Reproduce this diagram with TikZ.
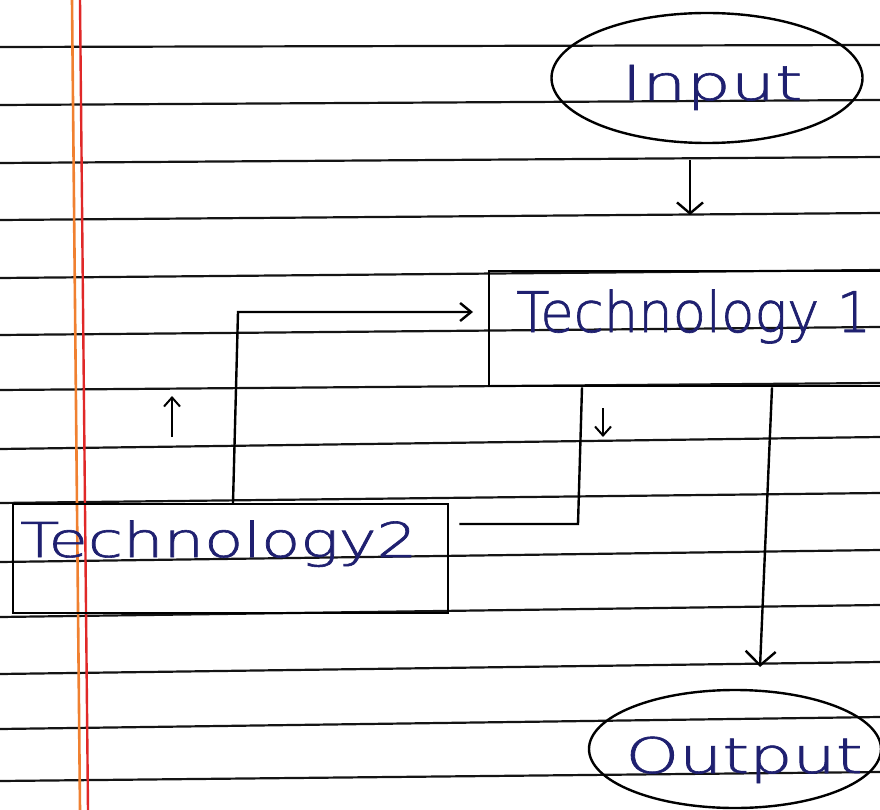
\documentclass[tikz,border=0pt]{standalone}
\usepackage{fontspec}
\usepackage{graphicx}
\usetikzlibrary{shapes.geometric,arrows.meta}
\IfFontExistsTF{DejaVu Sans ExtraLight}{\newfontfamily\handfont[FakeBold=1.2]{DejaVu Sans ExtraLight}}{\newfontfamily\handfont{DejaVu Sans}}
\definecolor{inkblue}{HTML}{1F2070}
\definecolor{marginA}{HTML}{F08030}
\definecolor{marginB}{HTML}{E02828}
\newcommand{\hw}[3]{\resizebox{#2}{\height}{\fontsize{#1}{#1}\handfont #3}}
\begin{document}
\begin{tikzpicture}[x=1pt,y=-1pt,
  rule/.style={line width=2.2pt, draw=black!92},
  ell/.style={ellipse, draw=black, line width=2.4pt, inner sep=0pt},
  boxn/.style={rectangle, draw=black, line width=2.4pt, inner sep=0pt},
  hwtxt/.style={text=inkblue, inner sep=0pt},
  conn/.style={draw=black, line width=2.4pt},
  arrbig/.style={conn, -{Straight Barb[length=11pt,width=26pt]}},
  arrout/.style={conn, -{Straight Barb[length=14pt,width=30pt]}},
  arrin/.style={conn, -{Straight Barb[length=11pt,width=18pt]}},
  arrsmall/.style={conn, line width=2pt, -{Straight Barb[length=9pt,width=16pt]}},
]
\useasboundingbox (0,0) rectangle (880,810);
\fill[white] (0,0) rectangle (880,810);
\clip (0,0) rectangle (880,810);
% ruled lines of the notebook page
\foreach \yl/\yr in {47/45,105/100,163/157,220/213,278/270,335/327,390/383,449/437,503/493,562/550,617/605,674/662,729/717,781/772}
  \draw[rule] (0,\yl) -- (880,\yr);
% margin lines
\draw[marginA, line width=2.6pt] (72,0) -- (80,810);
\draw[marginB, line width=2.4pt] (80,0) -- (88,810);

% nodes
\node[ell, minimum width=311pt, minimum height=130pt] (inp) at (707,78) {};
\node[hwtxt, anchor=base] (inptxt) at (712,100) {\hw{48}{181pt}{Input}};

\node[boxn, minimum width=430pt, minimum height=115pt, anchor=north west] (t1) at (488,270) {};
\node[hwtxt, anchor=base west] (t1txt) at (516,332) {\hw{56}{355pt}{Technology 1}};

\node[boxn, minimum width=435pt, minimum height=109pt, anchor=north west] (t2) at (12,503) {};
\node[hwtxt, anchor=base west] (t2txt) at (20,557) {\hw{48}{397pt}{Technology2}};

\node[ell, minimum width=292pt, minimum height=118pt] (out) at (735,749) {};
\node[hwtxt, anchor=base] (outtxt) at (744,773) {\hw{49}{237pt}{Output}};

% helper coordinates
\coordinate (ia) at (690,0);
\coordinate (oa) at (772,0);
\coordinate (ob) at (760,667);
\coordinate (da) at (582,0);
\coordinate (db) at (578,524);
\coordinate (la) at (233,0);
\coordinate (lb) at (238,312);
\coordinate (ua) at (172,437);
\coordinate (ub) at (172,396);
\coordinate (va) at (603,408);
\coordinate (vb) at (603,437);

% connectors
\draw[arrbig, shorten <=16pt, shorten >=55pt] (inp.south -| ia) -- (t1.north -| ia);
\draw[arrout] (t1.south -| oa) -- (ob);
\draw[conn, shorten >=10pt] (t1.south -| da) -- (db) -- (t2.east |- db);
\draw[arrin, shorten >=15pt] (t2.north -| la) -- (lb) -- (t1.west |- lb);

% small hand-drawn direction marks
\draw[arrsmall] (ua) -- (ub);
\draw[arrsmall] (va) -- (vb);
\end{tikzpicture}
\end{document}
